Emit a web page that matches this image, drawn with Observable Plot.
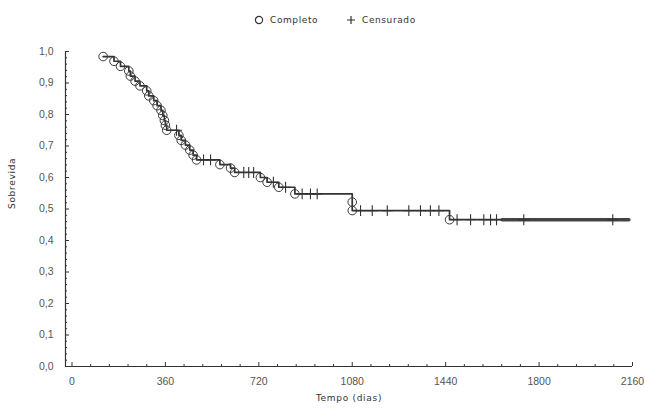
<!DOCTYPE html>
<html>
<head>
<meta charset="utf-8">
<script src="https://cdn.jsdelivr.net/npm/d3@7"></script>
<script src="https://cdn.jsdelivr.net/npm/@observablehq/plot@0.6"></script>
<style>
  html, body { margin: 0; padding: 0; background: #fff; }
  #wrap { width: 645px; }
  #legend { height: 38px; position: relative; font-family: "DejaVu Sans", sans-serif; font-size: 9px; letter-spacing: 0.6px; color: #333; }
  #legend .item { position: absolute; top: 15px; display: flex; align-items: center; }
  #legend svg { margin-right: 6px; }
</style>
</head>
<body>
<div id="wrap">
  <div id="legend"></div>
  <div id="chart"></div>
</div>
<script>
// ---- Data ----
const eventDays = [120, 162, 187, 219, 225, 243, 262, 288, 296, 315, 328, 343, 350, 356, 360, 365,
                   412, 421, 437, 454, 467, 480, 570, 611, 627, 726, 752, 797, 859, 1080, 1080, 1455];
const eventSurv = [0.984, 0.969, 0.953, 0.938, 0.922, 0.906, 0.891, 0.875, 0.859, 0.844, 0.828, 0.813, 0.797, 0.781, 0.766, 0.750,
                   0.734, 0.718, 0.703, 0.687, 0.671, 0.656, 0.641, 0.630, 0.616, 0.600, 0.585, 0.569, 0.548, 0.522, 0.495, 0.466];
const censorDays = [403, 507, 534, 662, 681, 700, 776, 823, 887, 919, 945,
                    1112, 1157, 1215, 1298, 1343, 1381, 1414,
                    1484, 1536, 1587, 1613, 1636, 1741, 2084];
const censorSurv = [0.750, 0.656, 0.656, 0.616, 0.616, 0.616, 0.585, 0.569, 0.548, 0.548, 0.548,
                    0.495, 0.495, 0.495, 0.495, 0.495, 0.495, 0.495,
                    0.466, 0.466, 0.466, 0.466, 0.466, 0.466, 0.466];
const lastDay = 2146;        // end of the curve
const heavyFromDay = 1658;   // start of the heavy tail segment
const xTicks = [0, 360, 720, 1080, 1440, 1800, 2160];
const xMinorStep = 72;
const yTicks = [0, 0.1, 0.2, 0.3, 0.4, 0.5, 0.6, 0.7, 0.8, 0.9, 1.0];
const yMinorStep = 0.02;
const legendLabels = ["Completo", "Censurado"];
const xTitle = "Tempo (dias)";
const yTitle = "Sobrevida";

// ---- Build tables ----
const events = eventDays.map((d, i) => ({t: d, s: eventSurv[i], kind: 0}));
const censors = censorDays.map((d, i) => ({t: d, s: censorSurv[i], kind: 1}));
const all = events.concat(censors).sort((a, b) => a.t - b.t || a.kind - b.kind || b.s - a.s);
const lastS = all[all.length - 1].s;
const curve = all.concat([{t: lastDay, s: lastS}]);
const tail = [{t: heavyFromDay, s: lastS}, {t: lastDay, s: lastS}];

const xMinor = d3.range(0, 2160 + 1, xMinorStep).filter(v => !xTicks.includes(v));
const yMinor = d3.range(0, 50 + 1).map(i => +(i * yMinorStep).toFixed(2)).filter(v => Math.round(v * 100) % 10 !== 0);

const W = 645, H = 376, mL = 65, mR = 13, mT = 13, mB = 48;
const pw = W - mL - mR, ph = H - mT - mB;
const xDomain = [-25, 2160];
const ink = "#333";

const chart = Plot.plot({
  width: W, height: H,
  marginLeft: mL, marginRight: mR, marginTop: mT, marginBottom: mB,
  x: {domain: xDomain},
  y: {domain: [0, 1]},
  style: {fontFamily: "Liberation Sans, Arial, sans-serif", background: "#fff"},
  marks: [
    Plot.axisX({ticks: xTicks, tickSize: 0, tickPadding: 11, tickFormat: d => String(d), label: null,
                fontSize: 10.5, fill: "#555"}),
    Plot.axisY({ticks: yTicks, tickSize: 0, tickPadding: 12, tickFormat: d => d.toFixed(1).replace(".", ","), label: null,
                fontSize: 10.5, fill: "#555"}),
    Plot.ruleY([0], {stroke: ink, strokeWidth: 1.2}),
    Plot.ruleX([xDomain[0]], {stroke: ink, strokeWidth: 1.2}),
    Plot.tickX(xTicks, {x: d => d, insetTop: ph - 4, stroke: ink}),
    Plot.tickX(xMinor, {x: d => d, insetTop: ph - 2, stroke: ink}),
    Plot.tickY(yTicks, {y: d => d, insetRight: pw - 4, stroke: ink}),
    Plot.tickY(yMinor, {y: d => d, insetRight: pw - 2, stroke: ink}),
    Plot.text([xTitle], {frameAnchor: "bottom", dy: 34, fontSize: 9, fill: ink,
                         fontFamily: "DejaVu Sans, sans-serif"}),
    Plot.text([yTitle], {frameAnchor: "left", dx: -53, rotate: -90, fontSize: 9, fill: ink,
                         fontFamily: "DejaVu Sans, sans-serif"}),
    Plot.line(curve, {x: "t", y: "s", curve: "step-after", stroke: ink, strokeWidth: 1.7}),
    Plot.line(tail, {x: "t", y: "s", stroke: "#444", strokeWidth: 3.6}),
    Plot.dot(events, {x: "t", y: "s", r: 4.3, stroke: "#3a3a3a", fill: "none", strokeWidth: 1}),
    Plot.dot(censors, {x: "t", y: "s", symbol: "plus", r: 3.6, stroke: ink, strokeWidth: 1.1})
  ]
});
chart.querySelectorAll("text").forEach(t => { if (t.textContent === xTitle || t.textContent === yTitle) t.setAttribute("letter-spacing", "0.7"); });
document.getElementById("chart").appendChild(chart);

// ---- Legend (HTML, above the SVG) ----
const legend = document.getElementById("legend");
const item1 = document.createElement("div");
item1.className = "item"; item1.style.left = "254px";
item1.innerHTML = `<svg width="10" height="10"><circle cx="5" cy="5" r="3.6" fill="none" stroke="${ink}" stroke-width="1.2"/></svg><span>${legendLabels[0]}</span>`;
const item2 = document.createElement("div");
item2.className = "item"; item2.style.left = "346px";
item2.innerHTML = `<svg width="10" height="10"><path d="M5,1V9M1,5H9" stroke="${ink}" stroke-width="1.2"/></svg><span>${legendLabels[1]}</span>`;
legend.appendChild(item1); legend.appendChild(item2);
</script>
</body>
</html>
